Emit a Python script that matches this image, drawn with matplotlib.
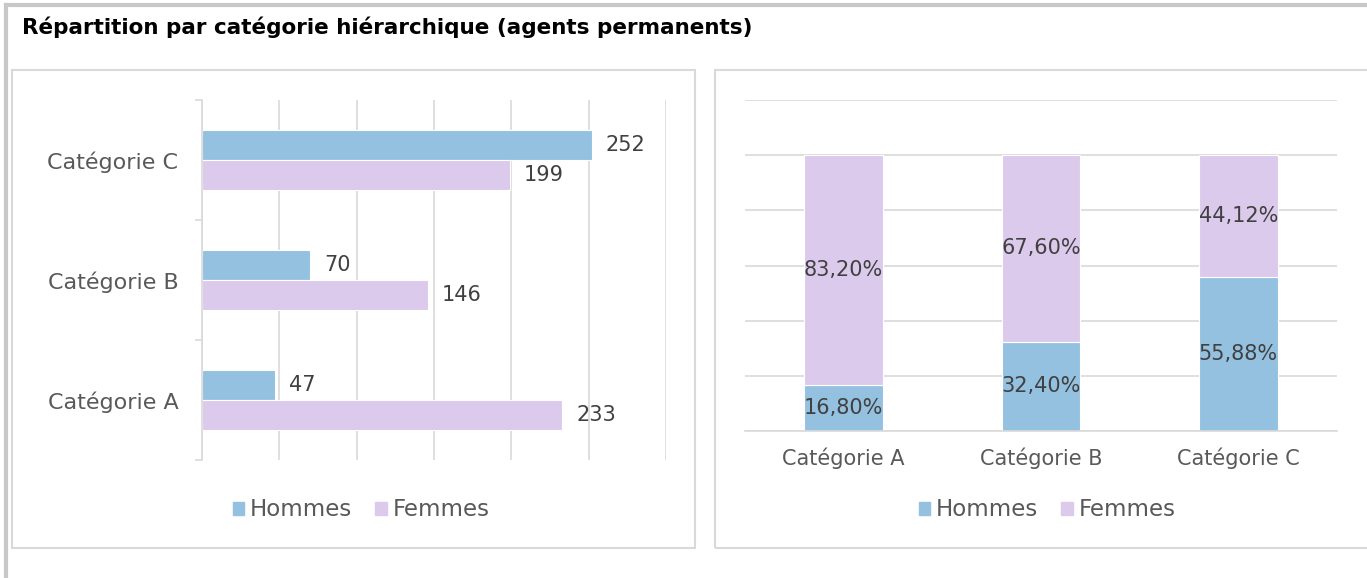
import matplotlib
matplotlib.use('Agg')
from matplotlib import pyplot as plt
from matplotlib.patches import Rectangle, Patch
import numpy as np

categories = ['Catégorie A', 'Catégorie B', 'Catégorie C']
hommes = [47, 70, 252]
femmes = [233, 146, 199]
pct_hommes = [16.80, 32.40, 55.88]
pct_femmes = [83.20, 67.60, 44.12]
series = ['Hommes', 'Femmes']

title = 'Répartition par catégorie hiérarchique (agents permanents)'

c_h = '#94c1e0'
c_f = '#dccaec'
grid_c = '#d9d9d9'
txt_c = '#404040'
lab_c = '#595959'

plt.rcParams['font.family'] = ['DejaVu Sans']

W, H = 1367, 578
fig = plt.figure(figsize=(W / 100, H / 100), dpi=100)


def box(x0, y0, x1, y1):
    # pixel coords, y from top
    return [x0 / W, 1 - y1 / H, (x1 - x0) / W, (y1 - y0) / H]


# outer frame and panel boxes
fig.add_artist(plt.Line2D([6 / W, 6 / W], [0, 1 - 5 / H], color='#c8c8c8', lw=3))
fig.add_artist(plt.Line2D([6 / W, 1], [1 - 5 / H, 1 - 5 / H], color='#c8c8c8', lw=3))
for b in [box(12, 70, 695, 548), box(715, 70, 1375, 548)]:
    fig.add_artist(Rectangle((b[0], b[1]), b[2], b[3], transform=fig.transFigure,
                             facecolor='none', edgecolor=grid_c, lw=1.5))

fig.text(22 / W, 1 - 27 / H, title, fontsize=15.5, fontweight='bold',
         color='black', va='center', ha='left')

# left chart: horizontal bars
ax1 = fig.add_axes(box(202, 100, 666, 460))
y = np.arange(len(categories))
bh = 0.25
b1 = ax1.barh(y + bh / 2, hommes, height=bh, color=c_h, edgecolor='white', lw=0.8)
b2 = ax1.barh(y - bh / 2, femmes, height=bh, color=c_f, edgecolor='white', lw=0.8)
ax1.bar_label(b1, padding=10, fontsize=15, color=txt_c)
ax1.bar_label(b2, padding=10, fontsize=15, color=txt_c)
ax1.set_xlim(0, 300)
ax1.set_ylim(-0.5, 2.5)
ax1.set_xticks(np.arange(0, 301, 50))
ax1.xaxis.grid(True, color=grid_c, lw=1.2)
ax1.set_axisbelow(True)
ax1.tick_params(axis='x', length=0, labelbottom=False)
ax1.set_yticks([-0.5, 0.5, 1.5, 2.5])
ax1.set_yticklabels([])
ax1.set_yticks(y, minor=True)
ax1.set_yticklabels(categories, minor=True, fontsize=16, color=lab_c)
ax1.tick_params(axis='y', which='major', length=5, color=grid_c, width=1.2)
ax1.tick_params(axis='y', which='minor', length=0, pad=17)
for s in ['top', 'right', 'bottom']:
    ax1.spines[s].set_visible(False)
ax1.spines['left'].set_color(grid_c)
ax1.spines['left'].set_linewidth(1.2)

# right chart: stacked 100% columns
ax2 = fig.add_axes(box(745, 100, 1337, 431))
x = np.arange(len(categories))
h = np.array(pct_hommes) / 100
f = np.array(pct_femmes) / 100
s1 = ax2.bar(x, h, width=0.4, color=c_h, edgecolor='white', lw=0.8)
s2 = ax2.bar(x, f, width=0.4, bottom=h, color=c_f, edgecolor='white', lw=0.8)
ax2.bar_label(s1, labels=[('%.2f%%' % v).replace('.', ',') for v in pct_hommes],
              label_type='center', fontsize=15, color=txt_c)
ax2.bar_label(s2, labels=[('%.2f%%' % v).replace('.', ',') for v in pct_femmes],
              label_type='center', fontsize=15, color=txt_c)
ax2.set_xlim(-0.5, 2.5)
ax2.set_ylim(0, 1.2)
ax2.set_yticks(np.arange(0, 1.21, 0.2))
ax2.yaxis.grid(True, color=grid_c, lw=1.2)
ax2.set_axisbelow(True)
ax2.tick_params(axis='y', length=0, labelleft=False)
ax2.set_xticks(x)
ax2.set_xticklabels(categories, fontsize=15, color=lab_c)
ax2.tick_params(axis='x', length=0, pad=12)
for s in ['top', 'right', 'left']:
    ax2.spines[s].set_visible(False)
ax2.spines['bottom'].set_color(grid_c)
ax2.spines['bottom'].set_linewidth(1.2)

handles = [Patch(color=c_h), Patch(color=c_f)]
for cx in [361, 1047]:
    fig.legend(handles, series, loc='center', bbox_to_anchor=(cx / W, 1 - 510 / H),
               ncol=2, frameon=False, fontsize=16.5, labelcolor=lab_c,
               handlelength=0.5, handleheight=0.5, handletextpad=0.25,
               columnspacing=1.0)

fig.savefig('out.png', dpi=100)
